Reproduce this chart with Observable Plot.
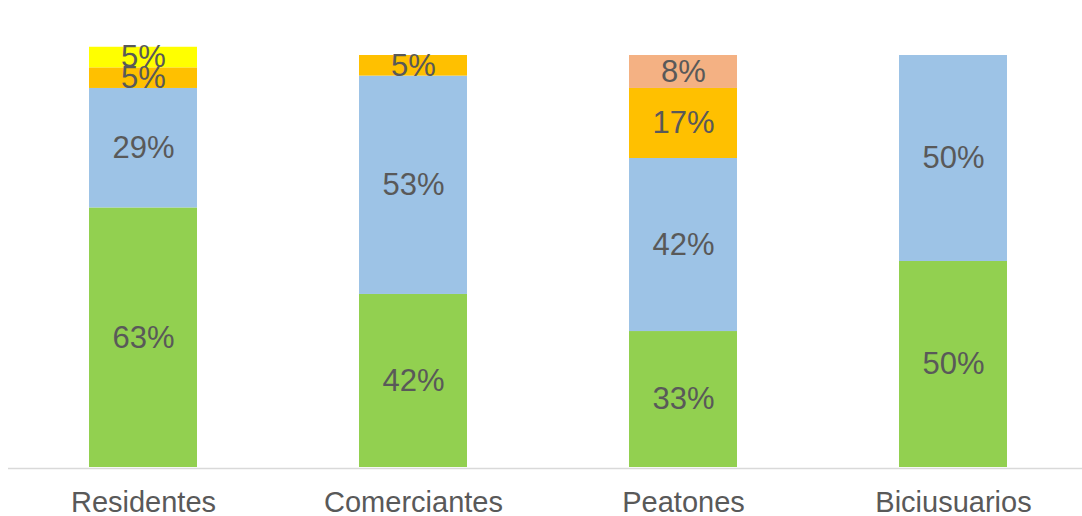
<!DOCTYPE html>
<html>
<head>
<meta charset="utf-8">
<script src="https://cdn.jsdelivr.net/npm/d3@7"></script>
<script src="https://cdn.jsdelivr.net/npm/@observablehq/plot@0.6"></script>
<style>
  html, body { margin: 0; padding: 0; background: #fff; }
</style>
</head>
<body>
<div id="chart"></div>
<script>
const categories = ["Residentes", "Comerciantes", "Peatones", "Biciusuarios"];
const seriesNames = ["S1", "S2", "S3", "S4", "S5"];
const seriesColors = ["#92d050", "#9dc3e6", "#ffc000", "#ffff00", "#f4b183"];
const s1 = [63, 42, 33, 50];
const s2 = [29, 53, 42, 50];
const s3 = [5, 5, 17, 0];
const s4 = [5, 0, 0, 0];
const s5 = [0, 0, 8, 0];

const seriesValues = [s1, s2, s3, s4, s5];
const data = [];
seriesValues.forEach((vals, si) => {
  vals.forEach((v, ci) => {
    if (v > 0) data.push({cat: categories[ci], series: seriesNames[si], value: v});
  });
});

const W = 1082, H = 516;
const chart = Plot.plot({
  width: W,
  height: H,
  marginLeft: 8,
  marginRight: 0,
  marginTop: 0,
  marginBottom: 49,
  style: {fontFamily: "'Liberation Sans', Arial, sans-serif", color: "#595959", background: "#fff"},
  x: {domain: categories, range: [8, 1088], paddingInner: 0.6, paddingOuter: 0.3, label: null},
  y: {domain: [0, 100], range: [467, 55], axis: null},
  color: {domain: seriesNames, range: seriesColors},
  marks: [
    Plot.barY(data, Plot.stackY({x: "cat", y: "value", z: "series", fill: "series", order: null})),
    Plot.text(data, Plot.stackY({x: "cat", y: "value", z: "series", order: null, text: d => d.value + "%", fill: "#595959", fontSize: 31})),
    Plot.ruleY([0], {stroke: "#d9d9d9", strokeWidth: 1.5, dy: 1}),
    Plot.axisX({tickSize: 0, tickPadding: 24, fontSize: 29, fill: "#595959", label: null})
  ]
});
document.getElementById("chart").appendChild(chart);
</script>
</body>
</html>
